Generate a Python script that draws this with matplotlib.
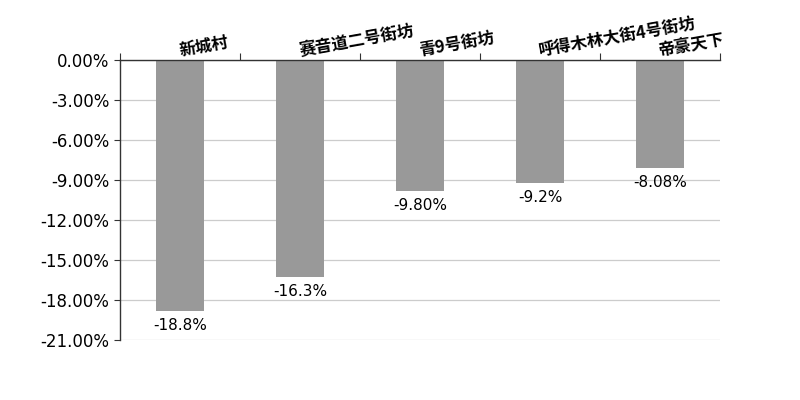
import matplotlib
matplotlib.use("Agg")
import matplotlib.pyplot as plt
from matplotlib.ticker import FuncFormatter

categories = ["新城村", "赛音道二号街坊", "青9号街坊", "呼得木林大街4号街坊", "帝豪天下"]
values = [-18.8, -16.3, -9.80, -9.2, -8.08]
value_labels = ["-18.8%", "-16.3%", "-9.80%", "-9.2%", "-8.08%"]
yticks = [0, -3, -6, -9, -12, -15, -18, -21]

plt.rcParams['font.family'] = ['DejaVu Sans', 'Noto Sans CJK SC']

fig = plt.figure(figsize=(8, 4), dpi=100)
ax = fig.add_axes([0.15, 0.15, 0.75, 0.70])

x = list(range(len(categories)))
ax.bar(x, values, width=0.4, color="#999999", zorder=2)

ax.set_xlim(-0.5, len(categories) - 0.5)
ax.set_ylim(-21, 0)
ax.set_yticks(yticks)
ax.yaxis.set_major_formatter(FuncFormatter(lambda v, p: f"{v:.2f}%"))
ax.tick_params(axis='y', labelsize=12, length=4, color="#333333")
ax.yaxis.grid(True, color="#cccccc", linewidth=0.9, zorder=0)

ax.xaxis.set_ticks_position('top')
ax.set_xticks([i - 0.5 for i in range(len(categories) + 1)])
ax.set_xticklabels([])
ax.tick_params(axis='x', length=5, direction='out', color="#333333")

for s in ['right', 'bottom']:
    ax.spines[s].set_visible(False)
for s in ['left', 'top']:
    ax.spines[s].set_color("#333333")
    ax.spines[s].set_linewidth(1)

for i, (v, lab) in enumerate(zip(values, value_labels)):
    ax.annotate(lab, (i, v), xytext=(0, -5), textcoords='offset points',
                ha='center', va='top', fontsize=11)

for i, c in enumerate(categories):
    ax.annotate(c, (i, 0), xytext=(0, 3), textcoords='offset points',
                ha='left', va='baseline', rotation=10, rotation_mode='anchor',
                fontsize=12, family=['Noto Sans CJK SC', 'DejaVu Sans'],
                fontweight='bold', annotation_clip=False)

fig.savefig("out.png", dpi=100)
